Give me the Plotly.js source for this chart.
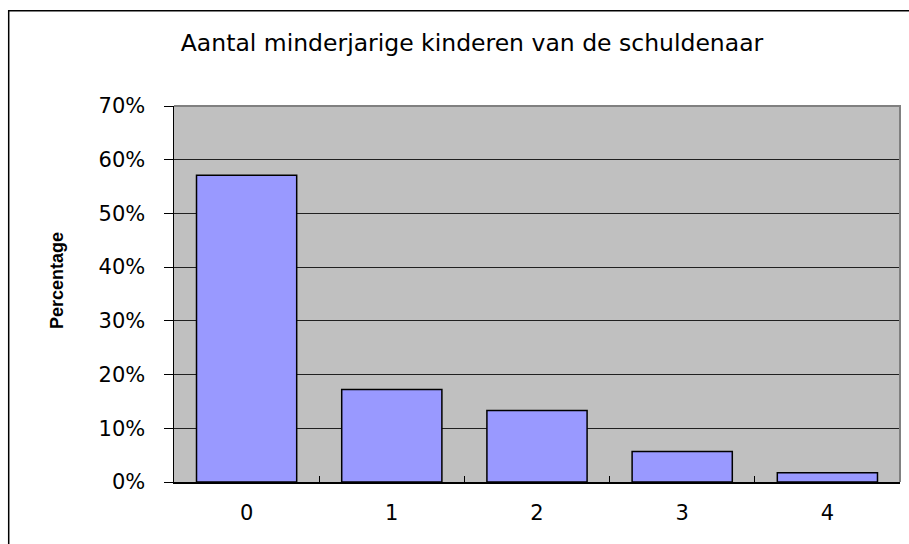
<!DOCTYPE html>
<html>
<head>
<meta charset="utf-8">
<script src="https://cdn.plot.ly/plotly-3.0.1.min.js"></script>
<style>
  html, body { margin: 0; padding: 0; background: #ffffff; }
  #chart { width: 909px; height: 544px; }
</style>
</head>
<body>
<div id="chart"></div>
<script>
// Data
const categories = ["0", "1", "2", "3", "4"];
const percentages = [57.1, 17.2, 13.3, 5.7, 1.7];
const yTickValues = [0, 10, 20, 30, 40, 50, 60, 70];
const yTickLabels = ["0%", "10%", "20%", "30%", "40%", "50%", "60%", "70%"];
const chartTitle = "Aantal minderjarige kinderen van de schuldenaar";
const yTitle = "Percentage";

const W = 909, H = 544;
const L = 174, R = 9, T = 106, B = 62;
const pw = W - L - R, ph = H - T - B;
const px = v => (v - L) / pw;            // pixel x -> paper
const py = v => (H - B - v) / ph;        // pixel y -> paper

const trace = {
  type: "bar",
  x: categories,
  y: percentages,
  marker: { color: "#9999FF", line: { color: "#000000", width: 1.5 } },
  hoverinfo: "x+y"
};

const layout = {
  width: W, height: H,
  margin: { l: L, r: R, t: T, b: B, pad: 0 },
  paper_bgcolor: "#ffffff",
  plot_bgcolor: "#C0C0C0",
  showlegend: false,
  bargap: 0.31,
  font: { family: "DejaVu Sans, Arial, sans-serif", color: "#000000" },
  title: {
    text: chartTitle,
    font: { family: "DejaVu Sans, Arial, sans-serif", size: 23.5, color: "#000000" },
    x: 472 / W, xanchor: "center", xref: "container",
    y: 1 - 43 / H, yanchor: "middle", yref: "container"
  },
  xaxis: {
    type: "category",
    showgrid: false,
    zeroline: false,
    showline: true, linecolor: "#000000", linewidth: 1.5,
    ticks: "inside", ticklen: 6, tickcolor: "#000000", tickwidth: 1,
    tickson: "boundaries",
    ticklabelstandoff: 11,
    tickfont: { family: "DejaVu Sans, Arial, sans-serif", size: 21, color: "#000000" },
    fixedrange: true
  },
  yaxis: {
    range: [0, 70],
    tickvals: yTickValues,
    ticktext: yTickLabels,
    showgrid: true, gridcolor: "#202020", gridwidth: 1,
    zeroline: false,
    showline: true, linecolor: "#000000", linewidth: 1.5,
    ticks: "outside", ticklen: 9, tickcolor: "#000000", tickwidth: 1,
    ticklabelstandoff: 14,
    tickfont: { family: "DejaVu Sans, Arial, sans-serif", size: 21, color: "#000000" },
    fixedrange: true
  },
  annotations: [{
    text: "<b>" + yTitle + "</b>",
    textangle: -90,
    xref: "paper", yref: "paper",
    x: px(57), y: py(281),
    xanchor: "center", yanchor: "middle",
    showarrow: false,
    font: { family: "Liberation Sans Narrow, Liberation Sans, Arial, sans-serif", size: 18, color: "#000000" }
  }],
  shapes: [
    { // plot area top/right border
      type: "path", xref: "paper", yref: "paper",
      path: "M 0,1 L 1,1 L 1,0",
      line: { color: "#808080", width: 2 }, layer: "above"
    },
    { // outer chart border (top and left)
      type: "path", xref: "paper", yref: "paper",
      path: `M ${px(8.7)},${py(560)} L ${px(8.7)},${py(10.7)} L ${px(920)},${py(10.7)}`,
      line: { color: "#000000", width: 1.5 }, layer: "above"
    }
  ]
};

Plotly.newPlot("chart", [trace], layout, { displayModeBar: false, staticPlot: true });
</script>
</body>
</html>
